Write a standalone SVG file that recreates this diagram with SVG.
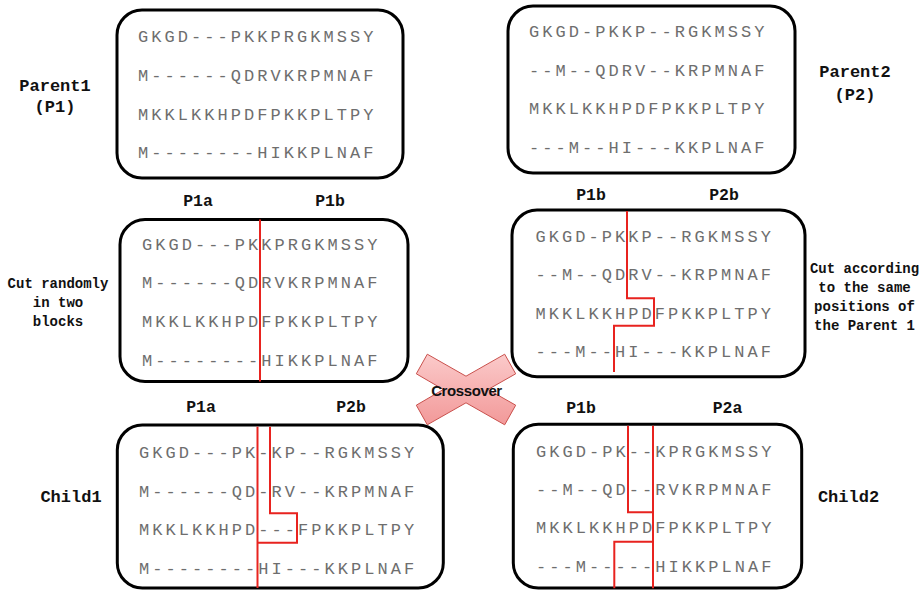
<svg xmlns="http://www.w3.org/2000/svg" width="923" height="591" viewBox="0 0 923 591">
  <defs>
    <linearGradient id="xFill" x1="0" y1="0" x2="0" y2="1">
      <stop offset="0" stop-color="#fbcaca"/>
      <stop offset="1" stop-color="#f29999"/>
    </linearGradient>
  </defs>
  <style>
    .box { fill: #ffffff; stroke: #000000; stroke-width: 3; }
    .seq { font-family: "Liberation Mono", "DejaVu Sans Mono", monospace; font-size: 17px; letter-spacing: 3.05px; fill: #6e6e6e; }
    .cut { fill: none; stroke: #e8231f; stroke-width: 2; }
    .lbl { font-family: "Liberation Mono", "DejaVu Sans Mono", monospace; font-weight: bold; font-size: 16.5px; fill: #111111; text-anchor: middle; }
    .side { font-family: "Liberation Mono", "DejaVu Sans Mono", monospace; font-weight: bold; font-size: 17px; fill: #111111; text-anchor: middle; }
    .note { font-family: "Liberation Mono", "DejaVu Sans Mono", monospace; font-weight: bold; font-size: 14px; fill: #111111; text-anchor: middle; }
    .xtext { font-family: "Liberation Sans", Arial, sans-serif; font-weight: bold; font-size: 15px; letter-spacing: -0.4px; fill: #111111; text-anchor: middle; }
  </style>

  <!-- Parent 1 -->
  <g id="parent1">
    <rect class="box" x="117" y="10" width="286" height="168" rx="25"/>
    <text class="seq" x="138" y="41.5">GKGD---PKKPRGKMSSY</text>
    <text class="seq" x="138" y="81">M------QDRVKRPMNAF</text>
    <text class="seq" x="138" y="119.5">MKKLKKHPDFPKKPLTPY</text>
    <text class="seq" x="138" y="158">M--------HIKKPLNAF</text>
  </g>
  <g id="parent1-label">
    <text class="side" x="55" y="91">Parent1</text>
    <text class="side" x="55" y="112">(P1)</text>
  </g>

  <!-- Parent 2 -->
  <g id="parent2">
    <rect class="box" x="508" y="6" width="287" height="167" rx="25"/>
    <text class="seq" x="529" y="36.7">GKGD-PKKP--RGKMSSY</text>
    <text class="seq" x="529" y="75.7">--M--QDRV--KRPMNAF</text>
    <text class="seq" x="529" y="114.3">MKKLKKHPDFPKKPLTPY</text>
    <text class="seq" x="529" y="153.3">---M--HI---KKPLNAF</text>
  </g>
  <g id="parent2-label">
    <text class="side" x="855" y="76.5">Parent2</text>
    <text class="side" x="855" y="100">(P2)</text>
  </g>

  <!-- Parent 1 cut into two blocks -->
  <g id="p1-cut">
    <rect class="box" x="120" y="219.5" width="288" height="162" rx="25"/>
    <text class="seq" x="142" y="250">GKGD---PKKPRGKMSSY</text>
    <text class="seq" x="142" y="288.3">M------QDRVKRPMNAF</text>
    <text class="seq" x="142" y="326.7">MKKLKKHPDFPKKPLTPY</text>
    <text class="seq" x="142" y="365.7">M--------HIKKPLNAF</text>
    <path class="cut" d="M260,219.5 V381.5"/>
    <text class="lbl" x="198" y="206">P1a</text>
    <text class="lbl" x="330" y="206">P1b</text>
  </g>
  <g id="p1-note">
    <text class="note" x="58" y="288">Cut randomly</text>
    <text class="note" x="58" y="307">in two</text>
    <text class="note" x="58" y="326">blocks</text>
  </g>

  <!-- Parent 2 cut at the same positions -->
  <g id="p2-cut">
    <rect class="box" x="512" y="210" width="293" height="166.7" rx="25"/>
    <text class="seq" x="535.5" y="241.7">GKGD-PKKP--RGKMSSY</text>
    <text class="seq" x="535.5" y="280">--M--QDRV--KRPMNAF</text>
    <text class="seq" x="535.5" y="319">MKKLKKHPDFPKKPLTPY</text>
    <text class="seq" x="535.5" y="357.3">---M--HI---KKPLNAF</text>
    <path class="cut" d="M627,211 V298.3 H654 V325.7 H614 V372"/>
    <text class="lbl" x="591" y="200">P1b</text>
    <text class="lbl" x="724" y="200">P2b</text>
  </g>
  <g id="p2-note">
    <text class="note" x="864.5" y="272.7">Cut according</text>
    <text class="note" x="864.5" y="291.7">to the same</text>
    <text class="note" x="864.5" y="311">positions of</text>
    <text class="note" x="864.5" y="330">the Parent 1</text>
  </g>

  <!-- Crossover symbol -->
  <g id="crossover">
    <polygon points="427.3,354.2 466,376.2 504.7,354.2 515.7,373.8 488,389.5 515.7,405.2 504.7,424.8 466,402.8 427.3,424.8 416.3,405.2 443.3,389.5 416.3,373.8"
             fill="url(#xFill)" stroke="#c9504c" stroke-width="1" stroke-linejoin="miter"/>
    <text class="xtext" x="466.5" y="395.5">Crossover</text>
  </g>

  <!-- Child 1 -->
  <g id="child1">
    <rect class="box" x="117.3" y="425" width="326" height="163" rx="25"/>
    <text class="seq" x="139" y="457.7">GKGD---PK-KP--RGKMSSY</text>
    <text class="seq" x="139" y="496.7">M------QD-RV--KRPMNAF</text>
    <text class="seq" x="139" y="535">MKKLKKHPD---FPKKPLTPY</text>
    <text class="seq" x="139" y="574">M--------HI---KKPLNAF</text>
    <path class="cut" d="M257.5,426.7 V588"/>
    <path class="cut" d="M270,426.7 V513.3 H297 V542.7 H257.5"/>
    <text class="lbl" x="201" y="412">P1a</text>
    <text class="lbl" x="351" y="412">P2b</text>
  </g>
  <g id="child1-label">
    <text class="side" x="71" y="502">Child1</text>
  </g>

  <!-- Child 2 -->
  <g id="child2">
    <rect class="box" x="513.3" y="424.3" width="288.4" height="163.7" rx="25"/>
    <text class="seq" x="536" y="456.7">GKGD-PK--KPRGKMSSY</text>
    <text class="seq" x="536" y="495">--M--QD--RVKRPMNAF</text>
    <text class="seq" x="536" y="533.3">MKKLKKHPDFPKKPLTPY</text>
    <text class="seq" x="536" y="571.7">---M-----HIKKPLNAF</text>
    <path class="cut" d="M653,425.7 V588.3"/>
    <path class="cut" d="M628,425.7 V512.3 H653"/>
    <path class="cut" d="M653,541.7 H614.3 V588.3"/>
    <text class="lbl" x="581" y="413">P1b</text>
    <text class="lbl" x="727.5" y="413">P2a</text>
  </g>
  <g id="child2-label">
    <text class="side" x="848.5" y="502">Child2</text>
  </g>

  <!-- no connectors between nodes in this figure -->
  <g id="connectors"/>
</svg>
